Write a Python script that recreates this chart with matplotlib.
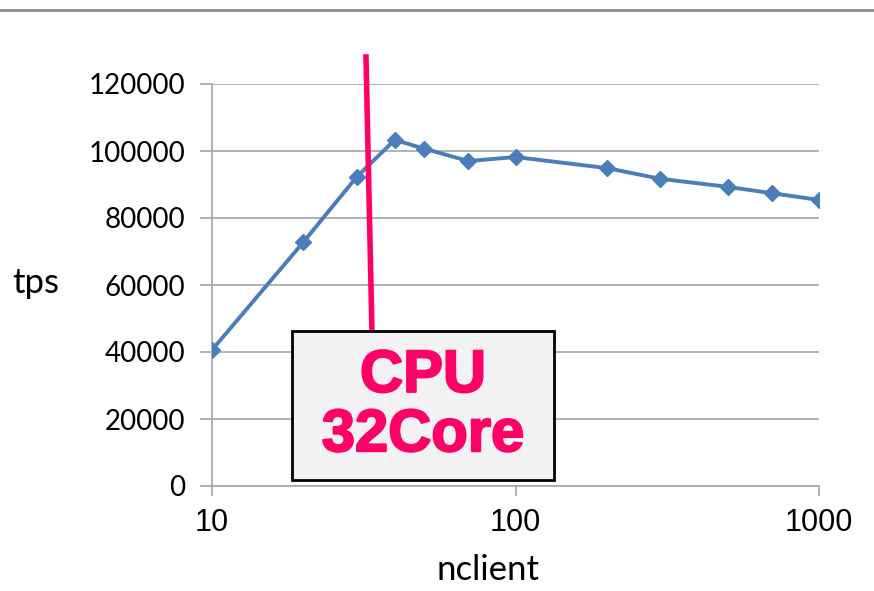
import matplotlib.pyplot as plt
import matplotlib.patheffects as pe
from matplotlib.lines import Line2D
from matplotlib.patches import Rectangle

# data
nclient = [10, 20, 30, 40, 50, 70, 100, 200, 300, 500, 700, 1000]
tps = [40600, 72800, 92300, 103300, 100700, 97000, 98200, 94900, 91700, 89300, 87400, 85400]
yticks = [0, 20000, 40000, 60000, 80000, 100000, 120000]
xticks = [10, 100, 1000]

W, H = 874, 591
fig = plt.figure(figsize=(W / 100, H / 100), dpi=100)
ax = fig.add_axes([212 / W, 1 - 486 / H, 607 / W, 402 / H])

ax.plot(nclient, tps, color='#4a7ebb', lw=2.8, marker='D', ms=8, zorder=3)
ax.set_xscale('log')
ax.set_xlim(10, 1000)
ax.set_ylim(0, 120000)
ax.set_yticks(yticks)
ax.set_yticklabels([str(v) for v in yticks], family='Lato', fontsize=20)
ax.set_xticks(xticks)
ax.set_xticklabels([str(v) for v in xticks], family='Liberation Sans', fontsize=22)
ax.minorticks_off()
ax.grid(axis='y', color='#a6a6a6', lw=1.2)
ax.set_axisbelow(True)
for s in ['top', 'right']:
    ax.spines[s].set_visible(False)
for s in ['left', 'bottom']:
    ax.spines[s].set_color('#a6a6a6')
    ax.spines[s].set_linewidth(1.2)
ax.tick_params(axis='y', length=9, width=1.2, color='#a6a6a6', pad=10)
ax.tick_params(axis='x', length=7, width=1.2, color='#a6a6a6', pad=9)

fig.text(36 / W, 1 - 283 / H, 'tps', family='Lato', fontsize=25, ha='center', va='center')
fig.text(488 / W, 1 - 570 / H, 'nclient', family='Lato', fontsize=25, ha='center', va='center')

# slide border at top
fig.add_artist(Line2D([0, 1], [1 - 9.5 / H, 1 - 9.5 / H], color='#8c8c8c', lw=2))

# red marker line and annotation box
fig.add_artist(Line2D([366 / W, 372 / W], [1 - 57 / H, 1 - 333 / H], color='#ff0066', lw=4, zorder=5))
fig.add_artist(Rectangle((292 / W, 1 - 480 / H), 262 / W, 149 / H, transform=fig.transFigure,
                         facecolor='#f2f2f2', edgecolor='black', lw=2, zorder=6))
fig.text(423 / W, 1 - 406 / H, 'CPU\n32Core', family='Liberation Sans', weight='bold',
         fontsize=43, color='#ff0066', ha='center', va='center', linespacing=1.1, zorder=7,
         path_effects=[pe.withStroke(linewidth=1.5, foreground='#ff0066')])

fig.savefig('out.png', dpi=100)
